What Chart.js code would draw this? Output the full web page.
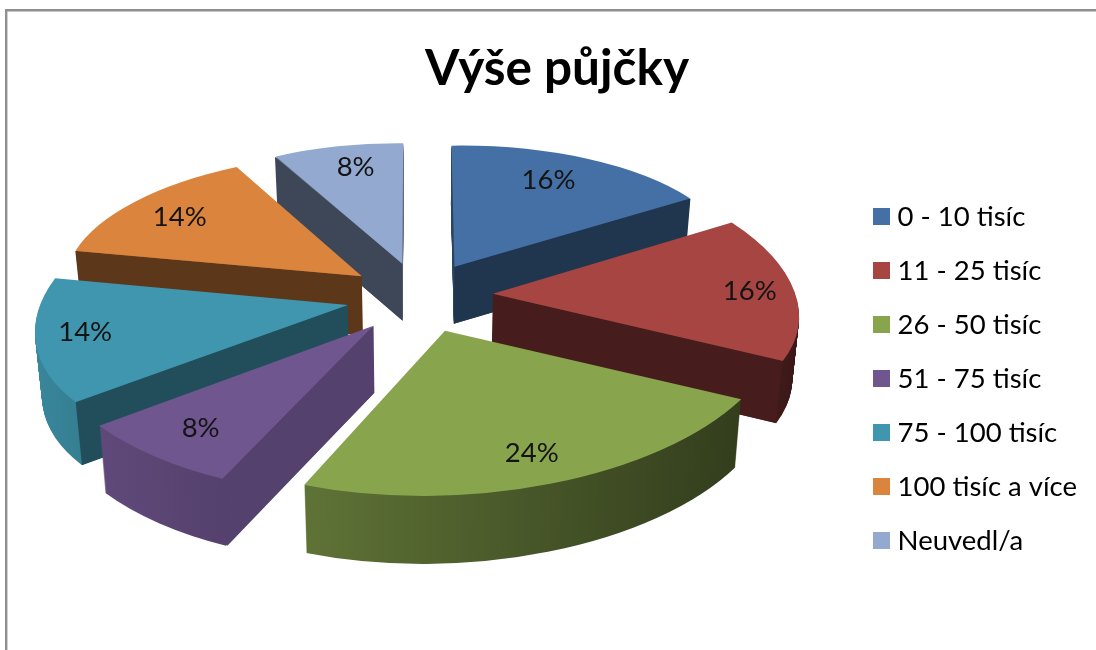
<!DOCTYPE html>
<html><head><meta charset="utf-8">
<style>html,body{margin:0;padding:0;background:#fff}#w{width:1096px;height:650px;position:relative}</style>
<script src="https://cdn.jsdelivr.net/npm/chart.js@4/dist/chart.umd.js"></script>
</head><body><div id="w"><canvas id="c" width="1096" height="650"></canvas></div>
<script>
const categories = ['0 - 10 tisíc','11 - 25 tisíc','26 - 50 tisíc','51 - 75 tisíc','75 - 100 tisíc','100 tisíc a více','Neuvedl/a'];
const values = [16,16,24,8,14,14,8];
const colors = ['#4470A5','#A64542','#88A54E','#70568F','#4096AE','#DA843D','#93A9CF'];
const wallShades = [0.47,0.42,0.5,0.76,0.52,0.42,0.42];
const labelOffsets = [[.348,-.695],[.846,-.021],[.272,.75],[-.469,.65],[-.821,.191],[-.652,-.455],[-.178,-.78]];
const view = {cx:420,cy:296,rx:305,ry:139,persp:.125,explode:.24,depth:62,converge:.018,shear:12,tilt:5,backLift:3.5,backSpread:4};
const fontFamily = 'Lato, "Noto Sans", sans-serif';

function project(u,v){
  const w=1/(1-view.persp*v), front=Math.max(v,0), back=Math.min(v,0);
  const drop=view.tilt*Math.min(1,front/.2)*Math.min(1,Math.max(0,(u+1)/2));
  return {x:view.cx+(view.rx*u-view.shear*front-view.backSpread*back*Math.max(u,0))*w,y:view.cy+view.ry*v*w+drop+view.backLift*back,w};
}
function hex(c,k){const n=parseInt(c.slice(1),16);return `rgb(${Math.round((n>>16)*k)},${Math.round(((n>>8)&255)*k)},${Math.round((n&255)*k)})`;}
function wallPoint(p,dy,s){return {x:view.cx+(p.x-view.cx)*s,y:p.y+dy};}

function frame(arc){
  const off=(arc.options.offset||0)/4, circ=arc.endAngle-arc.startAngle;
  const R=arc.outerRadius+off*(1-Math.sin(Math.min(Math.PI,circ)));
  const mid=(arc.startAngle+arc.endAngle)/2, e=view.explode;
  const d0=[Math.cos(mid),Math.sin(mid)], d1=[Math.cos(arc.startAngle),Math.sin(arc.startAngle)], d2=[Math.cos(arc.endAngle),Math.sin(arc.endAngle)];
  const A=[e*d0[0],e*d0[1]];
  const S0=project(A[0],A[1]), S1=project(A[0]+d1[0],A[1]+d1[1]), S2=project(A[0]+d2[0],A[1]+d2[1]);
  const det=R*R*(d1[0]*d2[1]-d2[0]*d1[1]);
  const i=[R*d2[1]/det,-R*d2[0]/det,-R*d1[1]/det,R*d1[0]/det];
  const ax=S1.x-S0.x,bx=S2.x-S0.x,ay=S1.y-S0.y,by=S2.y-S0.y;
  const a=ax*i[0]+bx*i[2], c=ax*i[1]+bx*i[3], b=ay*i[0]+by*i[2], d=ay*i[1]+by*i[3];
  const lx=arc.x+off*d0[0], ly=arc.y+off*d0[1];
  return {a,b,c,d,e:S0.x-a*lx-c*ly,f:S0.y-b*lx-d*ly,S0,S1,S2,mid,A};
}
function drawWith(ctx,arc,fill){
  const o=arc.options;
  arc.options=Object.create(o,{backgroundColor:{value:fill},borderWidth:{value:0}});
  arc.draw(ctx);
  arc.options=o;
}
const pie3d={
  id:'pie3d',
  beforeDraw(chart){
    const g=chart.ctx;g.save();g.fillStyle='#fff';g.fillRect(0,0,1096,650);
    g.strokeStyle='#8f8f8f';g.lineWidth=2.4;g.beginPath();g.moveTo(6.2,650);g.lineTo(6.2,10.2);g.lineTo(1096,10.2);g.stroke();g.restore();
  },
  beforeDatasetsDraw(chart){
    const g=chart.ctx, arcs=chart.getDatasetMeta(0).data;
    const items=arcs.map((arc,i)=>({arc,i,m:frame(arc)}));
    items.sort((p,q)=>Math.sin(p.m.mid)-Math.sin(q.m.mid));
    for(const {arc,i,m} of items){
      const D=Math.round(view.depth*project(m.A[0]+.5*Math.cos(m.mid),m.A[1]+.5*Math.sin(m.mid)).w);
      const det=m.a*m.d-m.b*m.c;
      const toLocal=x=>({x:(m.d*(x-m.e)-m.c*(300-m.f))/det,y:(-m.b*(x-m.e)+m.a*(300-m.f))/det});
      const l0=toLocal(40),l1=toLocal(780);
      const grad=g.createLinearGradient(l0.x,l0.y,l1.x,l1.y);
      grad.addColorStop(0,hex(colors[i],.91));grad.addColorStop(1,hex(colors[i],.35));
      for(let z=D;z>=1;z--){
        const s=1-view.converge*z/D;
        g.save();
        g.translate(view.cx,z);g.scale(s,1);g.translate(-view.cx,0);
        g.transform(m.a,m.b,m.c,m.d,m.e,m.f);
        drawWith(g,arc,grad);
        g.restore();
      }
      const s=1-view.converge;
      const wall=(P)=>{
        g.fillStyle=hex(colors[i],wallShades[i]);g.beginPath();
        const a=m.S0,b=P,c=wallPoint(P,D,s),d=wallPoint(m.S0,D,s);
        g.moveTo(a.x,a.y);g.lineTo(b.x,b.y);g.lineTo(c.x,c.y);g.lineTo(d.x,d.y);g.closePath();g.fill();
      };
      if(-Math.cos(arc.startAngle)>1e-6) wall(m.S1);
      if(Math.cos(arc.endAngle)>1e-6) wall(m.S2);
      g.save();g.transform(m.a,m.b,m.c,m.d,m.e,m.f);
      drawWith(g,arc,colors[i]);
      g.restore();
    }
    return false;
  },
  afterDraw(chart){
    const g=chart.ctx, arcs=chart.getDatasetMeta(0).data;
    g.save();g.font='27.5px '+fontFamily;g.fillStyle='#141414';g.textAlign='center';g.textBaseline='middle';
    arcs.forEach((arc,i)=>{
      const m=frame(arc),p=project(m.A[0]+labelOffsets[i][0],m.A[1]+labelOffsets[i][1]);
      g.fillText(values[i]+'%',p.x,p.y);
    });
    g.restore();
  }
};
function icon(c){const k=document.createElement('canvas');k.width=17;k.height=17;const x=k.getContext('2d');x.fillStyle=c;x.fillRect(0,0,17,17);return k;}
new Chart(document.getElementById('c'),{
  type:'pie',
  data:{labels:categories,datasets:[{data:values,backgroundColor:colors,borderWidth:0,offset:40}]},
  options:{
    responsive:false,animation:false,
    layout:{padding:{left:27,right:9,bottom:69}},
    plugins:{
      tooltip:{enabled:false},
      title:{display:true,text:'Výše půjčky',color:'#000',font:{family:fontFamily,size:49.5,weight:'bold'},padding:{top:39,bottom:20}},
      legend:{position:'right',align:'end',labels:{
        font:{family:fontFamily,size:27.5},color:'#262626',usePointStyle:true,pointStyleWidth:5,boxHeight:27.5,padding:26.5,
        generateLabels(){return categories.map((t,i)=>({text:t,fillStyle:colors[i],strokeStyle:colors[i],lineWidth:0,pointStyle:icon(colors[i]),index:i,hidden:false}));}
      }}
    }
  },
  plugins:[pie3d]
});
</script></body></html>
